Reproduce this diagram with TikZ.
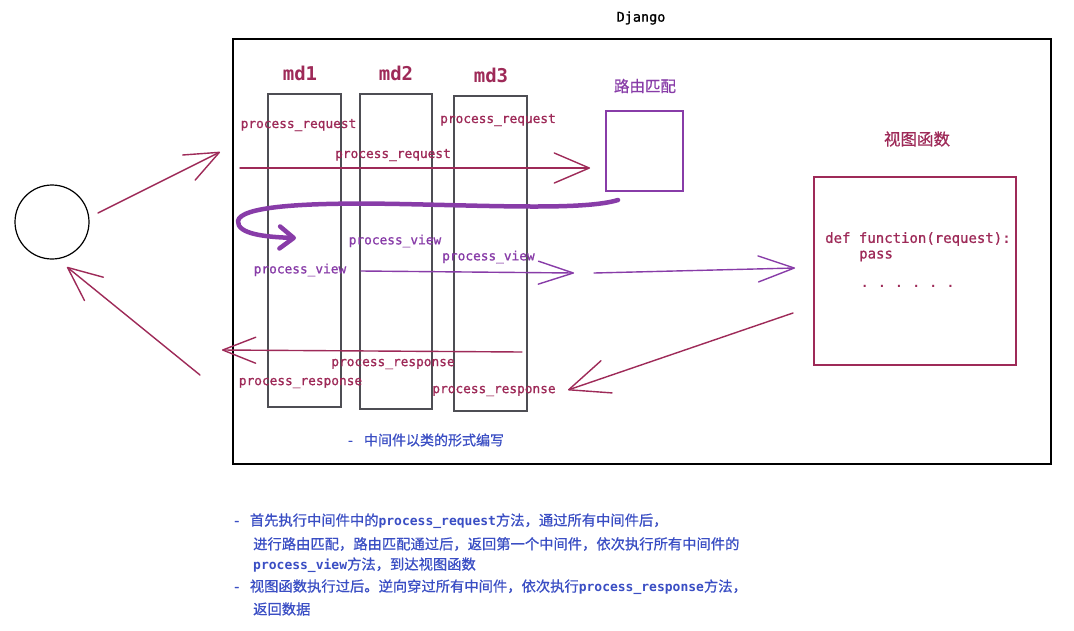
\documentclass[tikz,border=0pt]{standalone}
\usepackage{fontspec}
\usetikzlibrary{arrows.meta}
\newfontfamily\codefont{DejaVu Sans Mono}
\newfontfamily\labfont[FakeBold=0.9]{DejaVu Sans Mono}
\newfontfamily\cjk[FakeBold=0.7]{Noto Sans CJK SC}
\definecolor{crim}{RGB}{158,42,88}
\definecolor{purp}{RGB}{136,60,168}
\definecolor{blu}{RGB}{58,78,196}
\definecolor{boxgray}{RGB}{78,78,84}
\tikzset{
  mdbox/.style={draw=boxgray, line width=1.4pt, inner sep=0pt},
  mdlabel/.style={text=crim, font=\codefont\bfseries\fontsize{19}{21}\selectfont},
  reqlabel/.style={text=crim, font=\labfont\fontsize{12.8}{14}\selectfont, inner sep=0pt},
  viewlabel/.style={text=purp, font=\labfont\fontsize{12.8}{14}\selectfont, inner sep=0pt},
  crimarrow/.style={draw=crim, line width=1.4pt, line cap=round, -{Straight Barb[length=34pt,width=28pt,round]}},
  purparrow/.style={draw=purp, line width=1.4pt, line cap=round, -{Straight Barb[length=36pt,width=26pt,round]}},
  bluetext/.style={text=blu, anchor=west, inner sep=0pt, font=\cjk\fontsize{14.3}{16}\selectfont},
  codetext/.style={text=crim, anchor=west, inner sep=0pt, font=\labfont\fontsize{14}{16}\selectfont},
}
\newcommand{\bcode}[1]{{\codefont\bfseries\fontsize{13}{16}\selectfont #1}}
\begin{document}
\begin{tikzpicture}[x=1pt,y=-1pt]
\useasboundingbox[fill=white] (0,0) rectangle (1074,630);

% Django frame
\node[draw=black, line width=1.5pt, minimum width=818pt, minimum height=425pt, inner sep=0pt] (frame) at (642,251.5) {};
\node[font=\labfont\fontsize{13.5}{15}\selectfont] (django) at (641,18) {Django};

% client circle
\node[draw=black, line width=1.2pt, circle, minimum size=74pt, inner sep=0pt] (client) at (52,222) {};

% middleware boxes
\node[mdbox, minimum width=73pt, minimum height=313pt] (md1) at (304.5,250.5) {};
\node[mdbox, minimum width=72pt, minimum height=315pt] (md2) at (396,251.5) {};
\node[mdbox, minimum width=73pt, minimum height=315pt] (md3) at (490.5,253.5) {};
\node[mdlabel] (md1l) at (300,73) {md1};
\node[mdlabel] (md2l) at (396,73) {md2};
\node[mdlabel] (md3l) at (491,75) {md3};

% route box
\node[draw=purp, line width=1.4pt, minimum width=77pt, minimum height=80pt, inner sep=0pt] (route) at (644.5,151) {};
\node[text=purp, font=\cjk\fontsize{15.5}{17}\selectfont] (routel) at (645,86) {路由匹配};

% view function box
\node[draw=crim, line width=1.5pt, minimum width=202pt, minimum height=188pt, inner sep=0pt] (view) at (915,271) {};
\node[text=crim, font=\cjk\fontsize{16.5}{18}\selectfont] (viewl) at (917,139) {视图函数};
\node[codetext] (code1) at (825,239) {def function(request):};
\node[codetext] (code2) at (859,256) {pass};
\node[text=crim, anchor=west, inner sep=0pt, font=\codefont\bfseries\fontsize{12.2}{16}\selectfont] (code3) at (861,286) {. . . . . .};

% labels
\node[reqlabel] (pr1) at (298.5,125) {process\_request};
\node[reqlabel] (pr2) at (393,155) {process\_request};
\node[reqlabel] (pr3) at (498,120) {process\_request};
\node[viewlabel] (pv1) at (395,241) {process\_view};
\node[viewlabel] (pv2) at (300,270) {process\_view};
\node[viewlabel] (pv3) at (488.5,257) {process\_view};
\node[reqlabel] (ps1) at (393,364) {process\_response};
\node[reqlabel] (ps2) at (300.5,383) {process\_response};
\node[reqlabel] (ps3) at (494,391) {process\_response};

% coordinates for connectors
\coordinate (c1s) at (98,213);  \coordinate (c1e) at (220,152);
\coordinate (reqs) at (240,168); \coordinate (reqe) at (590,168);
\coordinate (cvs) at (618,200); \coordinate (cve) at (296,238);
\coordinate (pvs) at (361,271); \coordinate (pve) at (574,273);
\coordinate (pv2s) at (594,273); \coordinate (pv2e) at (795,268);
\coordinate (vrs) at (793,313); \coordinate (vre) at (568,390);
\coordinate (rss) at (522,352); \coordinate (rse) at (222,350);
\coordinate (c2s) at (200,375); \coordinate (c2e) at (67,267);

% connectors
\draw[crimarrow] (c1s) -- (c1e);
\draw[crimarrow, -{Straight Barb[length=35pt,width=30pt,round]}] (reqs) -- (reqe);
\draw[draw=purp, line width=4.5pt, line cap=round, line join=round, -{Straight Barb[length=14pt,width=22pt,round]}]
  (cvs) .. controls (585,210) and (500,206) .. (400,204)
        .. controls (300,202) and (240,207) .. (238,221)
        .. controls (237,234) and (265,237) .. (cve);
\draw[purparrow, -{Straight Barb[length=35pt,width=23pt,round]}] (pvs) -- (pve);
\draw[purparrow] (pv2s) -- (pv2e);
\draw[crimarrow, -{Straight Barb[length=40pt,width=34pt,round]}] (vrs) -- (vre);
\draw[crimarrow, -{Straight Barb[length=33pt,width=26pt,round]}] (rss) -- (rse);
\draw[crimarrow, -{Straight Barb[length=34pt,width=30pt,round]}] (c2s) -- (c2e);

% notes
\node[text=blu, font=\cjk\fontsize{14}{16}\selectfont] (note) at (426,440) {-\hspace{0.8em}中间件以类的形式编写};
\node[bluetext] (t1) at (234,521) {-\hspace{0.75em}首先执行中间件中的\bcode{process\_request}方法，通过所有中间件后，};
\node[bluetext] (t2) at (253,544) {进行路由匹配，路由匹配通过后，返回第一个中间件，依次执行所有中间件的};
\node[bluetext] (t3) at (253,565) {\bcode{process\_view}方法，到达视图函数};
\node[bluetext] (t4) at (234,587) {-\hspace{0.75em}视图函数执行过后。逆向穿过所有中间件，依次执行\bcode{process\_response}方法，};
\node[bluetext] (t5) at (253,609) {返回数据};
\end{tikzpicture}
\end{document}
